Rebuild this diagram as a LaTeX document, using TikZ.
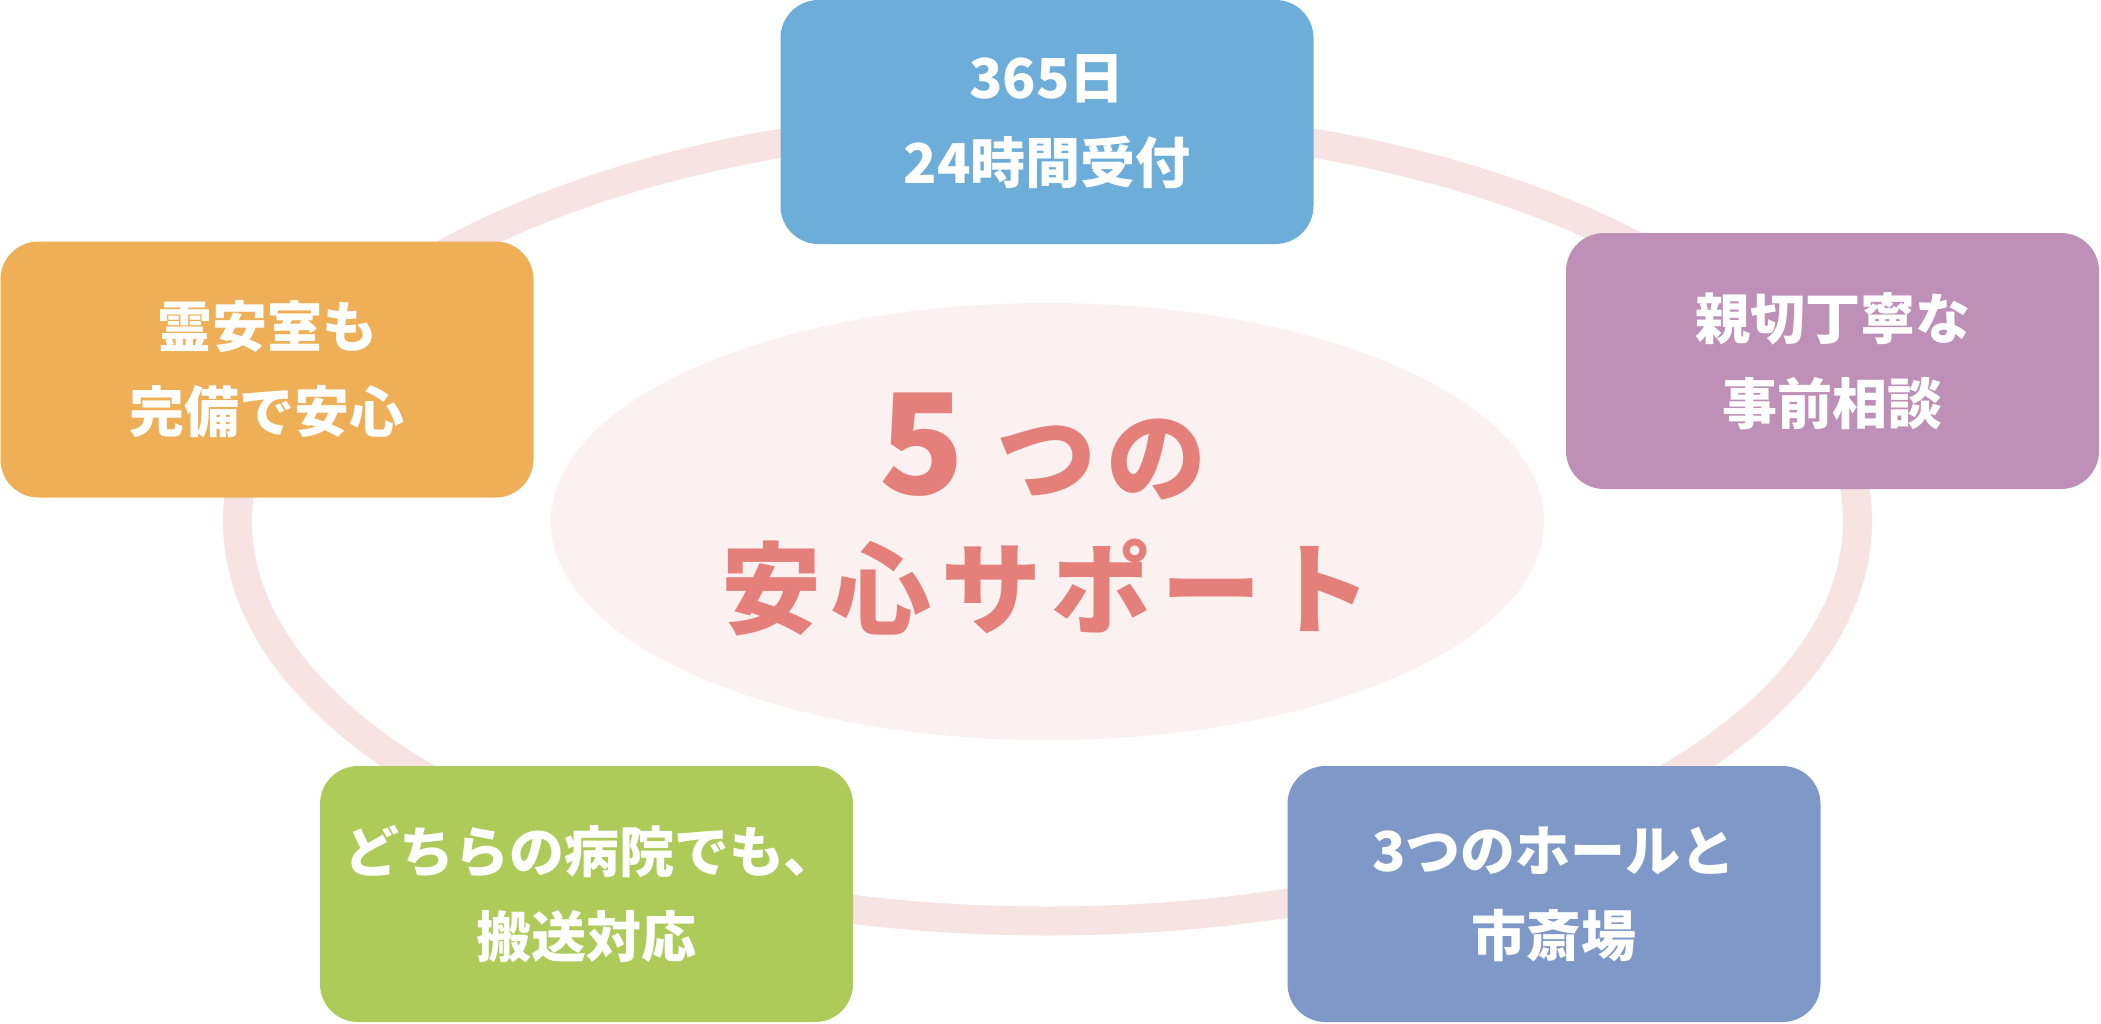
\documentclass[tikz,border=0pt]{standalone}
\usepackage{fontspec}
\newfontfamily\jp{Noto Sans CJK JP}
\newfontfamily\jpt{Noto Sans CJK JP}[LetterSpace=10]
\usetikzlibrary{shapes.geometric}
\definecolor{ringc}{HTML}{F8E3E3}
\definecolor{corec}{HTML}{FCF1F1}
\definecolor{titlec}{HTML}{E47F79}
\definecolor{cblue}{HTML}{6CAED9}
\definecolor{corange}{HTML}{EFAF56}
\definecolor{cpurple}{HTML}{BE90B8}
\definecolor{cgreen}{HTML}{AECB59}
\definecolor{cslate}{HTML}{7E98C7}
\begin{document}
\begin{tikzpicture}[x=1pt,y=-1pt,
  card/.style={rounded corners=38pt, minimum width=533pt, minimum height=256pt,
    inner sep=0pt, text=white, align=center,
    font=\jp\bfseries\fontsize{55}{85}\selectfont},
  titletext/.style={anchor=base, inner sep=0pt, text=titlec,
    font=\jpt\bfseries\fontsize{100}{100}\selectfont}]
\useasboundingbox (0,0) rectangle (2101,1023);
% ring
\draw[ringc, line width=29pt] (1047.5,521) ellipse [x radius=810, y radius=400];
% core ellipse
\node[ellipse, fill=corec, minimum width=993pt, minimum height=437pt, inner sep=0pt] (core) at (1047.5,521.5) {};
% title
\node[titletext] (title1) at (1043,494) {{\fontsize{140}{140}\selectfont 5}\hspace{32pt}つの};
\node[titletext] (title2) at (1046,626) {安心サポート};
% cards
\node[card, fill=cblue, minimum height=244pt] (reception) at (1047,122) {365日\\24時間受付};
\node[card, fill=corange] (room) at (267,369.5) {霊安室も\\完備で安心};
\node[card, fill=cpurple] (consult) at (1832.5,361) {親切丁寧な\\事前相談};
\node[card, fill=cgreen] (transport) at (586.5,894) {どちらの病院でも、\kern-10pt\\搬送対応};
\node[card, fill=cslate] (halls) at (1554,894) {3つのホールと\\市斎場};
\end{tikzpicture}
\end{document}
